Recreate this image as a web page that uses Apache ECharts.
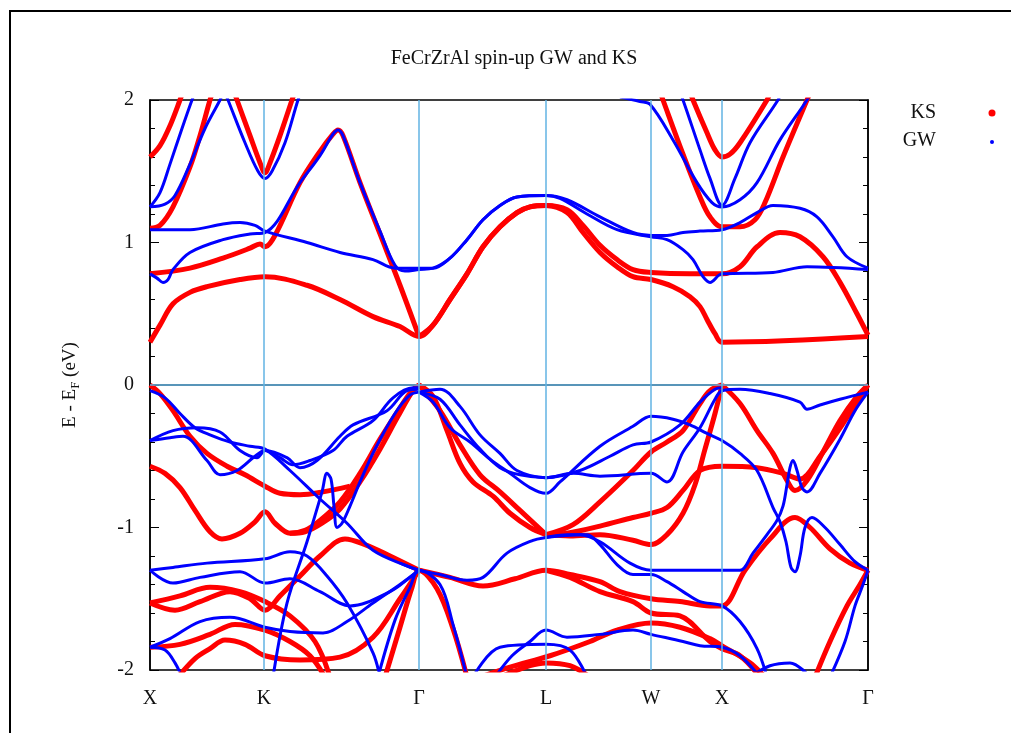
<!DOCTYPE html>
<html>
<head>
<meta charset="utf-8">
<script src="https://cdn.jsdelivr.net/npm/echarts@6/dist/echarts.min.js"></script>
<style>
html,body{margin:0;padding:0;background:#fff;}
#chart{width:1011px;height:733px;}
</style>
</head>
<body>
<div id="chart"></div>
<script>
// k-path coordinate (k-point index along X-K-Γ-L-W-X-Γ) and labels
const kTicks = [0, 114, 269, 396, 501, 572, 718];
const kLabels = ['X', 'K', 'Γ', 'L', 'W', 'X', 'Γ'];
const eTicks = [-2, -1, 0, 1, 2];

// Kohn-Sham bands, [k, E - EF (eV)]
const ksBands = [
  // conduction
  [[0,0.30],[10,0.42],[23,0.57],[40,0.65],[57,0.69],[90,0.74],[115,0.76],[157,0.70],[190,0.60],[223,0.48],[250,0.41],[269,0.34],[283,0.42],[300,0.60],[317,0.78],[333,0.97],[350,1.11],[367,1.21],[380,1.25],[396,1.26],[417,1.21],[433,1.07],[450,0.93],[467,0.83],[483,0.76],[501,0.74],[523,0.69],[540,0.62],[550,0.55],[557,0.46],[565,0.36],[572,0.30],[718,0.34]],
  [[269,0.34],[283,0.42],[300,0.60],[317,0.78],[333,0.97],[350,1.11],[367,1.21],[380,1.25],[396,1.26],[417,1.23],[433,1.12],[450,0.98],[467,0.88],[483,0.81],[501,0.79],[540,0.78],[572,0.78],[590,0.83],[607,0.97],[630,1.07],[650,1.04],[673,0.90],[690,0.72],[707,0.50],[718,0.35]],
  [[0,0.78],[40,0.82],[73,0.89],[100,0.96],[110,0.99],[115,0.97],[125,1.05],[150,1.42],[170,1.64],[183,1.76],[188,1.79],[193,1.75],[210,1.42],[230,1.06],[250,0.70],[269,0.34]],
  [[0,1.10],[10,1.12],[23,1.25],[40,1.53],[50,1.75],[60,2.0],[63,2.06]],
  [[0,1.60],[10,1.68],[20,1.82],[30,2.0],[33,2.06]],
  [[84,2.06],[87,2.0],[100,1.75],[110,1.56],[115,1.49],[120,1.56],[130,1.75],[142,2.0],[145,2.06]],
  [[540,2.06],[543,2.0],[557,1.77],[565,1.65],[572,1.60],[580,1.62],[590,1.70],[617,2.0],[620,2.05]],
  [[510,2.06],[513,2.0],[533,1.62],[550,1.32],[560,1.18],[572,1.11],[590,1.11],[605,1.16],[615,1.28],[633,1.60],[657,2.0],[660,2.05]],
  // valence, X-K-Γ
  [[0,0],[10,-0.06],[23,-0.18],[40,-0.36],[57,-0.48],[77,-0.57],[95,-0.63],[115,-0.71],[130,-0.76],[150,-0.77],[173,-0.75],[200,-0.71]],
  [[0,-0.57],[15,-0.62],[30,-0.72],[45,-0.88],[60,-1.03],[72,-1.08],[90,-1.04],[105,-0.96],[115,-0.89],[125,-0.97],[140,-1.04],[155,-1.02],[170,-0.95],[190,-0.82],[210,-0.62],[230,-0.38],[250,-0.16],[262,-0.04],[269,0]],
  [[140,-1.04],[155,-1.03],[172,-0.97],[190,-0.87],[210,-0.68],[230,-0.45],[248,-0.22],[262,-0.05],[269,0]],
  [[0,-1.53],[25,-1.58],[50,-1.52],[80,-1.45],[100,-1.5],[115,-1.58],[130,-1.48],[150,-1.34],[170,-1.2],[195,-1.08],[215,-1.12],[240,-1.2],[269,-1.3]],
  [[0,-1.53],[30,-1.48],[60,-1.42],[90,-1.45],[115,-1.52],[140,-1.62],[165,-1.8],[180,-2.05]],
  [[0,-1.84],[30,-1.82],[60,-1.75],[85,-1.68],[115,-1.72],[140,-1.8],[160,-1.9],[175,-2.05]],
  [[28,-2.05],[45,-1.92],[60,-1.85],[75,-1.79],[95,-1.82],[115,-1.9],[150,-1.93],[190,-1.91],[223,-1.77],[250,-1.5],[269,-1.3]],
  [[235,-2.05],[250,-1.7],[262,-1.42],[269,-1.3],[287,-1.43],[303,-1.71],[317,-2.05]],
  // valence, Γ-L-W-X-Γ
  [[269,0],[283,-0.08],[297,-0.32],[310,-0.55],[323,-0.68],[343,-0.78],[360,-0.9],[380,-1.0],[396,-1.05]],
  [[269,0],[290,-0.18],[310,-0.42],[330,-0.63],[350,-0.75],[370,-0.88],[396,-1.05]],
  [[396,-1.05],[423,-0.98],[450,-0.82],[483,-0.6],[501,-0.47],[517,-0.40],[533,-0.32],[550,-0.13],[560,-0.04],[572,0]],
  [[396,-1.05],[417,-1.04],[450,-0.99],[483,-0.93],[501,-0.90],[517,-0.86],[533,-0.74],[550,-0.60],[572,-0.57],[607,-0.58],[633,-0.62],[650,-0.66],[670,-0.5],[695,-0.25],[718,0]],
  [[396,-1.05],[420,-1.06],[450,-1.05],[483,-1.09],[501,-1.12],[517,-1.05],[533,-0.9],[545,-0.7],[555,-0.45],[565,-0.2],[572,0]],
  [[572,0],[590,-0.13],[607,-0.32],[623,-0.48],[637,-0.67],[645,-0.74],[657,-0.67],[673,-0.47],[690,-0.25],[707,-0.08],[718,0]],
  [[269,-1.3],[300,-1.35],[333,-1.41],[365,-1.36],[396,-1.3],[420,-1.33],[450,-1.38],[470,-1.45],[501,-1.5],[530,-1.52],[560,-1.55],[572,-1.55],[595,-1.3],[620,-1.08],[645,-0.93],[660,-1.0],[680,-1.15],[700,-1.25],[718,-1.3]],
  [[396,-1.3],[420,-1.35],[450,-1.45],[483,-1.52],[501,-1.6],[530,-1.62],[560,-1.8],[572,-1.85],[590,-1.9],[610,-2.05]],
  [[330,-2.05],[360,-1.98],[400,-1.9],[440,-1.8],[467,-1.72],[501,-1.67],[530,-1.7],[560,-1.78],[572,-1.83],[600,-1.95],[615,-2.05]],
  [[350,-2.05],[380,-1.97],[396,-1.95],[420,-1.97],[440,-2.05]],
  [[665,-2.05],[680,-1.8],[697,-1.55],[710,-1.4],[718,-1.3]]
];

// GW quasiparticle bands, [k, E - EF (eV)]
const gwBands = [
  // conduction
  [[0,0.78],[7,0.75],[13,0.72],[18,0.74],[23,0.81],[40,0.93],[73,1.02],[100,1.06],[115,1.07],[150,1.42],[170,1.61],[183,1.76],[188,1.79],[193,1.75],[210,1.42],[230,1.08],[245,0.84],[255,0.80],[269,0.81],[283,0.82],[300,0.89],[317,1.02],[333,1.16],[350,1.26],[367,1.32],[396,1.33],[417,1.30],[450,1.18],[483,1.07],[501,1.05],[517,1.05],[533,1.07],[550,1.08],[572,1.09],[590,1.14],[607,1.21],[623,1.26],[650,1.24],[667,1.18],[683,1.04],[697,0.90],[718,0.82]],
  [[0,1.09],[40,1.09],[73,1.13],[90,1.14],[105,1.12],[115,1.08],[157,1.00],[190,0.93],[223,0.88],[245,0.82],[269,0.82],[283,0.82],[300,0.89],[317,1.02],[333,1.16],[350,1.26],[367,1.32],[396,1.33],[410,1.31],[437,1.20],[467,1.09],[501,1.04],[517,1.02],[533,0.95],[543,0.88],[553,0.76],[560,0.72],[572,0.78],[623,0.79],[657,0.83],[718,0.81]],
  [[0,1.25],[10,1.35],[20,1.55],[32,1.8],[42,2.0],[45,2.05]],
  [[0,1.25],[15,1.27],[25,1.33],[40,1.55],[55,1.8],[70,2.0],[73,2.05]],
  [[75,2.05],[78,2.0],[95,1.7],[108,1.5],[115,1.45],[122,1.5],[135,1.7],[148,2.0],[151,2.05]],
  [[470,2.02],[490,1.99],[500,1.97],[523,1.72],[547,1.42],[562,1.28],[572,1.25],[590,1.30],[607,1.42],[630,1.72],[657,2.0],[660,2.05]],
  [[530,2.05],[533,2.0],[550,1.65],[560,1.45],[572,1.26],[585,1.45],[600,1.7],[628,2.0],[631,2.05]],
  // valence, X-K-Γ
  [[0,-0.04],[15,-0.09],[30,-0.2],[45,-0.3],[60,-0.35],[80,-0.4],[100,-0.43],[115,-0.45],[140,-0.6],[170,-0.8],[197,-0.97],[223,-1.16],[257,-1.27],[269,-1.3]],
  [[0,-0.39],[23,-0.32],[47,-0.3],[70,-0.33],[90,-0.46],[107,-0.51],[115,-0.46],[130,-0.51],[143,-0.56],[160,-0.53],[183,-0.46],[197,-0.36],[223,-0.25],[243,-0.09],[263,-0.02],[269,-0.02]],
  [[0,-0.39],[20,-0.37],[33,-0.36],[57,-0.53],[70,-0.63],[87,-0.6],[105,-0.5],[115,-0.46],[137,-0.51],[150,-0.58],[167,-0.53],[190,-0.36],[203,-0.28],[237,-0.18],[257,-0.04],[269,-0.03]],
  [[123,-2.05],[137,-1.53],[157,-1.1],[172,-0.75],[177,-0.62],[181,-0.66],[184,-0.85],[187,-1.0],[192,-0.97],[200,-0.85],[210,-0.68],[225,-0.45],[245,-0.2],[260,-0.07],[269,-0.05]],
  [[0,-1.30],[23,-1.28],[57,-1.25],[115,-1.22],[140,-1.17],[157,-1.2],[177,-1.34],[197,-1.53],[223,-1.88],[230,-2.05]],
  [[0,-1.30],[23,-1.39],[50,-1.35],[90,-1.31],[115,-1.39],[140,-1.36],[170,-1.45],[200,-1.55],[240,-1.45],[260,-1.35],[269,-1.3]],
  [[0,-1.84],[15,-1.86],[25,-1.95],[32,-2.05]],
  [[0,-1.84],[20,-1.78],[50,-1.66],[80,-1.63],[115,-1.7],[140,-1.73],[173,-1.74],[197,-1.66],[223,-1.53],[250,-1.4],[269,-1.3]],
  [[228,-2.05],[245,-1.65],[260,-1.42],[269,-1.3],[290,-1.4],[303,-1.68],[317,-2.05]],
  // valence, Γ-L-W-X-Γ
  [[269,-0.05],[290,-0.03],[310,-0.15],[330,-0.35],[350,-0.48],[367,-0.6],[396,-0.65],[423,-0.62],[450,-0.64],[501,-0.62],[517,-0.68],[533,-0.47],[550,-0.3],[565,-0.1],[572,-0.04],[590,-0.03],[620,-0.06],[650,-0.12],[657,-0.17],[670,-0.14],[690,-0.1],[718,-0.05]],
  [[269,-0.05],[283,-0.12],[300,-0.3],[320,-0.4],[340,-0.52],[360,-0.62],[380,-0.72],[396,-0.76],[410,-0.68],[450,-0.43],[483,-0.29],[501,-0.22],[523,-0.24],[540,-0.28],[557,-0.34],[572,-0.39],[590,-0.48],[607,-0.6],[623,-0.86],[630,-0.96],[636,-1.1],[641,-1.28],[645,-1.31],[650,-1.2],[655,-1.0],[662,-0.93],[675,-1.0],[690,-1.12],[705,-1.24],[718,-1.3]],
  [[269,-0.05],[290,-0.1],[310,-0.28],[330,-0.45],[350,-0.58],[370,-0.63],[396,-0.65],[430,-0.6],[460,-0.5],[483,-0.42],[501,-0.4],[530,-0.28],[550,-0.12],[565,-0.03],[572,-0.02]],
  [[572,-1.3],[590,-1.3],[603,-1.18],[617,-1.05],[627,-0.95],[633,-0.85],[637,-0.7],[640,-0.58],[643,-0.53],[647,-0.6],[652,-0.72],[657,-0.75],[670,-0.62],[690,-0.38],[705,-0.18],[718,-0.05]],
  [[250,-1.25],[269,-1.3],[290,-1.33],[317,-1.37],[333,-1.35],[357,-1.18],[383,-1.09],[396,-1.07],[417,-1.05],[437,-1.05],[450,-1.12],[467,-1.26],[483,-1.33],[501,-1.33],[517,-1.38],[533,-1.45],[550,-1.52],[572,-1.55],[590,-1.66],[607,-1.85],[617,-2.05]],
  [[396,-1.07],[430,-1.05],[450,-1.1],[480,-1.25],[501,-1.3],[530,-1.3],[560,-1.3],[572,-1.3]],
  [[323,-2.05],[350,-1.84],[396,-1.82],[420,-1.86],[437,-2.05]],
  [[345,-2.05],[362,-1.9],[380,-1.8],[396,-1.72],[417,-1.77],[450,-1.75],[483,-1.72],[501,-1.75],[533,-1.8],[550,-1.83],[572,-1.84],[590,-1.9],[610,-2.05]],
  [[600,-2.05],[620,-1.97],[640,-1.95],[660,-2.05]],
  [[680,-2.05],[695,-1.8],[705,-1.55],[712,-1.42],[718,-1.3]]
];

const chart = echarts.init(document.getElementById('chart'), null, {renderer: 'canvas'});
const serif = '"Liberation Serif", "DejaVu Serif", serif';

function bandSeries(bands, color, width, z) {
  return bands.map(b => ({
    type: 'line', data: b, showSymbol: false, smooth: 0.35, z: z,
    lineStyle: {color: color, width: width}, silent: true, clip: true
  }));
}

// high-symmetry verticals and the Fermi level
const guide = {
  type: 'line', data: [], z: 1, silent: true,
  markLine: {
    silent: true, symbol: 'none', label: {show: false},
    lineStyle: {color: '#62b3e3', width: 1.5, type: 'solid'},
    data: kTicks.slice(1, -1).map(k => ({xAxis: k})).concat([{yAxis: 0}])
  }
};

chart.setOption({
  animation: false,
  backgroundColor: '#fff',
  title: {
    text: 'FeCrZrAl spin-up GW and KS', left: 509, top: 44, textAlign: 'center',
    textStyle: {fontFamily: serif, fontWeight: 'normal', fontSize: 20, color: '#111'}
  },
  grid: {left: 150, right: 143, top: 100, bottom: 63, show: true, borderColor: '#000', borderWidth: 1.5},
  xAxis: {
    type: 'value', min: 0, max: 718,
    axisLine: {show: true, lineStyle: {color: '#000', width: 1.5}},
    axisTick: {show: false},
    splitLine: {show: false},
    axisLabel: {
      customValues: kTicks, margin: 19,
      formatter: v => kLabels[kTicks.indexOf(v)],
      fontFamily: serif, fontSize: 20, color: '#111'
    }
  },
  yAxis: [{
    type: 'value', min: -2, max: 2, interval: 1,
    name: '{a|E - E}{s|F}{a| (eV)}', nameLocation: 'middle', nameGap: 68, nameRotate: 90,
    nameTextStyle: {rich: {
      a: {fontFamily: serif, fontSize: 19, color: '#111'},
      s: {fontFamily: serif, fontSize: 13, color: '#111', verticalAlign: 'bottom', padding: [10, 0, 0, 0]}
    }},
    axisLine: {show: true, lineStyle: {color: '#000', width: 1.5}},
    axisTick: {show: true, inside: true, length: 9, lineStyle: {color: '#000'}},
    minorTick: {show: true, splitNumber: 5, length: 5, lineStyle: {color: '#000'}},
    splitLine: {show: false},
    axisLabel: {fontFamily: serif, fontSize: 20, color: '#111', margin: 16,
      formatter: v => eTicks.indexOf(v) >= 0 ? String(v) : ''}
  }, {
    type: 'value', min: -2, max: 2, interval: 1, position: 'right',
    axisLine: {show: true, lineStyle: {color: '#000', width: 1.5}},
    axisTick: {show: true, inside: true, length: 9, lineStyle: {color: '#000'}},
    minorTick: {show: true, splitNumber: 5, length: 5, lineStyle: {color: '#000'}},
    splitLine: {show: false}, axisLabel: {show: false}
  }],
  graphic: [
    {type: 'rect', shape: {x: 10, y: 11, width: 1020, height: 740}, style: {fill: 'none', stroke: '#000', lineWidth: 2}, silent: true},
    {type: 'text', right: 75, top: 103, style: {text: 'KS', font: '20px ' + serif, fill: '#111', textAlign: 'right'}},
    {type: 'text', right: 75, top: 131, style: {text: 'GW', font: '20px ' + serif, fill: '#111', textAlign: 'right'}},
    {type: 'circle', shape: {cx: 992, cy: 113, r: 3.5}, style: {fill: '#ff0000'}},
    {type: 'circle', shape: {cx: 992, cy: 142, r: 2}, style: {fill: '#0000ff'}}
  ],
  series: [guide]
    .concat(bandSeries(ksBands, '#ff0000', 5, 2))
    .concat(bandSeries(gwBands, '#0000ff', 3, 3))
});
</script>
</body>
</html>
